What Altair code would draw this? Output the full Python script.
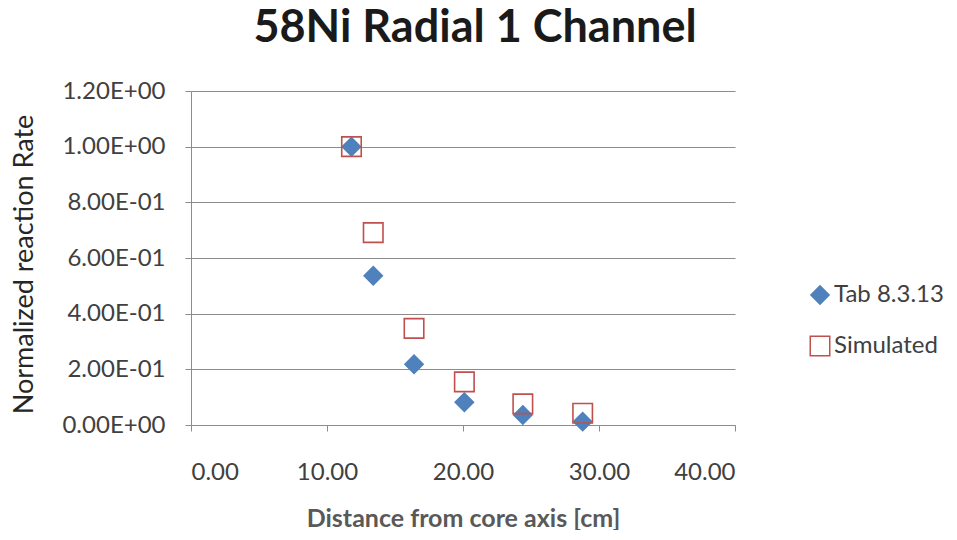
import altair as alt
import pandas as pd

# ---- data ----
series_names = ["Tab 8.3.13", "Simulated"]
distance_tab = [11.8, 13.4, 16.4, 20.1, 24.4, 28.8]
rate_tab = [1.0, 0.536, 0.218, 0.082, 0.036, 0.012]
distance_sim = [11.8, 13.4, 16.4, 20.1, 24.4, 28.8]
rate_sim = [1.0, 0.691, 0.347, 0.155, 0.076, 0.042]

x_tick_values = [0, 10, 20, 30, 40]
y_tick_values = [0.0, 0.2, 0.4, 0.6, 0.8, 1.0, 1.2]
y_tick_labels = ["0.00E+00", "2.00E-01", "4.00E-01", "6.00E-01", "8.00E-01", "1.00E+00", "1.20E+00"]

df = pd.DataFrame({
    "distance": distance_tab + distance_sim,
    "rate": rate_tab + rate_sim,
    "series": [series_names[0]] * len(distance_tab) + [series_names[1]] * len(distance_sim),
})

label_expr = "''"
for v, lab in reversed(list(zip(y_tick_values, y_tick_labels))):
    label_expr = f"abs(datum.value - {v}) < 1e-6 ? '{lab}' : ({label_expr})"

FONT = "Lato"
TXT = "#404040"
GRID = "#8c8c8c"

leg = alt.Legend(title=None, orient="none", legendX=617, legendY=192)

chart = alt.Chart(df).mark_point(opacity=1, strokeWidth=1.6, filled=False).encode(
    x=alt.X("distance:Q",
            scale=alt.Scale(domain=[0, 40], nice=False, zero=True),
            axis=alt.Axis(values=x_tick_values, format=".2f", title="Distance from core axis [cm]",
                          grid=False, tickSize=6, labelPadding=29, titlePadding=22,
                          labelFontSize=24, titleFontSize=25, titleFontWeight="bold",
                          titleColor="#595959")),
    y=alt.Y("rate:Q",
            scale=alt.Scale(domain=[0, 1.2], nice=False),
            axis=alt.Axis(values=y_tick_values, labelExpr=label_expr, title="Normalized reaction Rate",
                          grid=True, tickSize=6, labelPadding=20,
                          titleX=-159, titleY=173, titleBaseline="alphabetic",
                          labelFontSize=24, titleFontSize=27, titleFontWeight="normal",
                          titleColor="#262626")),
    color=alt.Color("series:N", scale=alt.Scale(domain=series_names, range=["#4f81bd", "#c0504d"]),
                    legend=leg),
    shape=alt.Shape("series:N", scale=alt.Scale(domain=series_names, range=["diamond", "square"]),
                    legend=leg),
    fill=alt.Fill("series:N", scale=alt.Scale(domain=series_names, range=["#4f81bd", "transparent"]),
                  legend=leg),
    size=alt.Size("series:N", scale=alt.Scale(domain=series_names, range=[330, 380]), legend=None),
).properties(
    width=544,
    height=334,
    title=alt.TitleParams("58Ni Radial 1 Channel", fontSize=45, font=FONT, fontWeight="bold",
                          color="#1a1a1a", anchor="middle", dx=12, offset=28),
    autosize=alt.AutoSizeParams(type="none"),
    padding={"left": 183, "top": 83, "right": 214, "bottom": 105},
).configure_view(stroke=None).configure_axis(
    labelFont=FONT, titleFont=FONT, labelColor=TXT, domainColor=GRID, tickColor=GRID,
    gridColor=GRID, gridWidth=1, domainWidth=1, tickWidth=1,
).configure_legend(
    labelFont=FONT, labelFontSize=24, labelColor=TXT,
    symbolSize=150, rowPadding=25, labelOffset=2, symbolStrokeWidth=1.5,
)

chart.save("out.html", embed_options={"renderer": "svg", "actions": False})
